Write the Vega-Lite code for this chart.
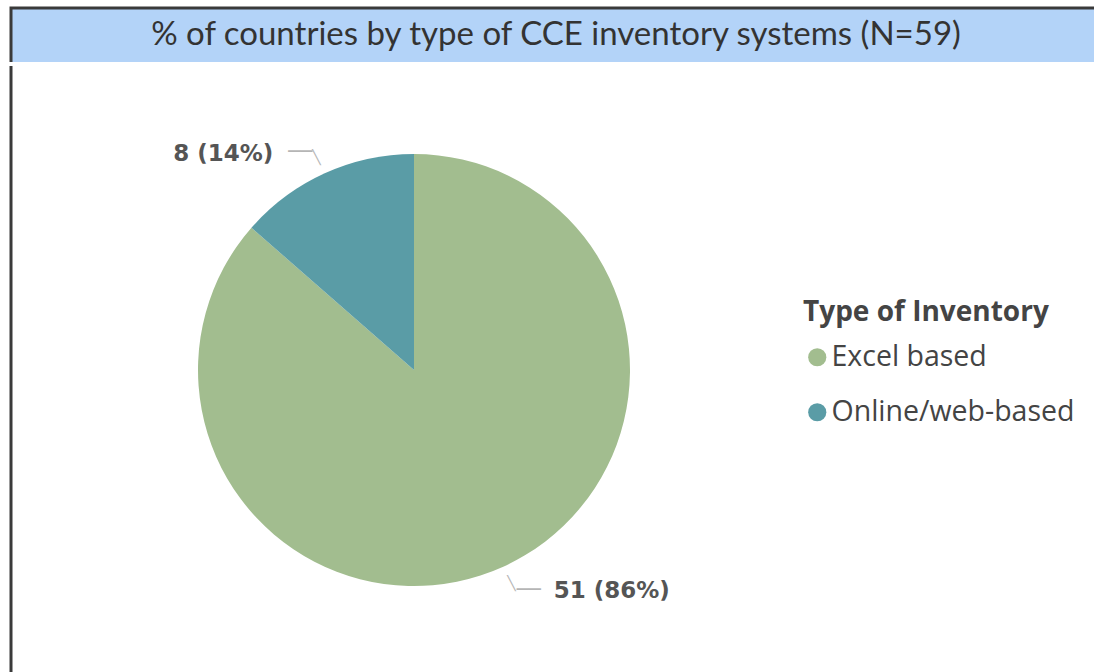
{
  "$schema": "https://vega.github.io/schema/vega-lite/v6.json",
  "padding": {"left": 9, "top": 6, "right": 0, "bottom": 0},
  "background": "white",
  "spacing": 0,
  "config": {"view": {"stroke": null}},
  "vconcat": [
    {
      "width": 1090,
      "height": 54,
      "view": {"fill": "#b3d3f8", "stroke": "#3a3a3a", "strokeWidth": 3, "strokeDash": [1144, 1144], "strokeDashOffset": 54},
      "data": {"values": [{"title": "% of countries by type of CCE inventory systems (N=59)"}]},
      "mark": {"type": "text", "font": "Lato", "fontSize": 33, "color": "#333333", "baseline": "middle", "align": "center"},
      "encoding": {"text": {"field": "title", "type": "nominal"}}
    },
    {
      "width": 806,
      "height": 608,
      "view": {"stroke": "#3a3a3a", "strokeWidth": 3, "strokeDash": [608, 2220], "strokeDashOffset": 608},
      "data": {"values": [
        {"type": "Excel based", "count": 51, "label": "51 (86%)"},
        {"type": "Online/web-based", "count": 8, "label": "8 (14%)"}
      ]},
      "layer": [
        {
          "mark": {"type": "arc", "outerRadius": 216},
          "encoding": {
            "theta": {"field": "count", "type": "quantitative", "stack": true},
            "color": {
              "field": "type", "type": "nominal",
              "scale": {"domain": ["Excel based", "Online/web-based"], "range": ["#a2bd8f", "#5a9ca6"]},
              "legend": {
                "orient": "none", "legendX": 792, "legendY": 291,
                "title": "Type of Inventory",
                "titleFont": "Open Sans", "titleFontSize": 28, "titleFontWeight": "bold", "titleColor": "#444444",
                "titleLimit": 600, "labelLimit": 600,
                "labelFont": "Open Sans", "labelFontSize": 28.5, "labelColor": "#444444",
                "symbolType": "circle", "symbolSize": 330, "symbolStrokeWidth": 0,
                "rowPadding": 26, "titlePadding": 16, "labelOffset": 0
              }
            }
          }
        },
        {
          "mark": {
            "type": "text", "radius": 246, "font": "DejaVu Sans", "fontWeight": "bold", "fontSize": 23, "color": "#555555",
            "baseline": "middle",
            "align": {"expr": "datum.type == 'Excel based' ? 'left' : 'right'"},
            "dx": {"expr": "datum.type == 'Excel based' ? 38 : -39"},
            "dy": {"expr": "datum.type == 'Excel based' ? -3 : 8"}
          },
          "encoding": {
            "theta": {"field": "count", "type": "quantitative", "stack": true},
            "detail": {"field": "type", "type": "nominal"},
            "text": {"field": "label", "type": "nominal"}
          }
        },
        {
          "mark": {
            "type": "text", "radius": 246, "font": "DejaVu Sans", "fontSize": 20, "color": "#b5b5b5",
            "text": "──",
            "baseline": "middle",
            "align": {"expr": "datum.type == 'Excel based' ? 'left' : 'right'"},
            "dx": {"expr": "datum.type == 'Excel based' ? 1 : 0"},
            "dy": {"expr": "datum.type == 'Excel based' ? -4 : 6"}
          },
          "encoding": {
            "theta": {"field": "count", "type": "quantitative", "stack": true},
            "detail": {"field": "type", "type": "nominal"}
          }
        },
        {
          "mark": {
            "type": "text", "radius": 246, "font": "DejaVu Sans", "fontSize": 14, "color": "#b5b5b5",
            "text": "╲",
            "baseline": {"expr": "datum.type == 'Excel based' ? 'bottom' : 'top'"},
            "align": {"expr": "datum.type == 'Excel based' ? 'right' : 'left'"},
            "dx": 0,
            "dy": {"expr": "datum.type == 'Excel based' ? -3 : 5"}
          },
          "encoding": {
            "theta": {"field": "count", "type": "quantitative", "stack": true},
            "detail": {"field": "type", "type": "nominal"}
          }
        }
      ]
    }
  ]
}
